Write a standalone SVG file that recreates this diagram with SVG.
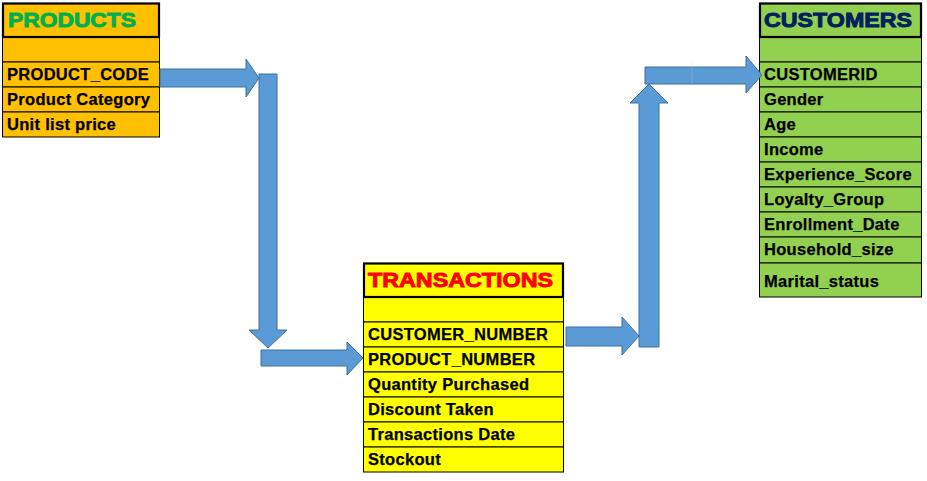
<svg xmlns="http://www.w3.org/2000/svg" width="927" height="481" viewBox="0 0 927 481">
<style>
.bg{fill:#FFFFFF}
.row{stroke:#000;stroke-width:1}
.title{stroke:#000;stroke-width:2.2}
.ttl{font-family:"Liberation Sans",Arial,sans-serif;font-weight:bold;font-size:20px;stroke-width:0.9}
.fld{font-family:"Liberation Sans",Arial,sans-serif;font-weight:bold;font-size:16.5px;letter-spacing:0.3px;fill:#000;stroke:#000;stroke-width:0.25}
.arr{fill:#5B9BD5;stroke:#41719C;stroke-width:1}
.prod{fill:#FFC000}
.tran{fill:#FFFF00}
.cust{fill:#92D050}
</style>
<rect class="bg" x="0" y="0" width="927" height="481"/>

<g id="products">
  <rect class="prod row" x="2.5" y="37" width="157" height="25"/>
  <rect class="prod row" x="2.5" y="62" width="157" height="25"/>
  <rect class="prod row" x="2.5" y="87" width="157" height="25"/>
  <rect class="prod row" x="2.5" y="112" width="157" height="25"/>
  <rect class="prod title" x="3" y="3.5" width="156" height="33.5"/>
  <text class="ttl" x="8" y="27" fill="#00B050" stroke="#00B050" textLength="128" lengthAdjust="spacingAndGlyphs">PRODUCTS</text>
  <text class="fld" x="7" y="80">PRODUCT_CODE</text>
  <text class="fld" x="7" y="105">Product Category</text>
  <text class="fld" x="7" y="130">Unit list price</text>
</g>

<g id="transactions">
  <rect class="tran row" x="363.5" y="297" width="200" height="25"/>
  <rect class="tran row" x="363.5" y="322" width="200" height="25"/>
  <rect class="tran row" x="363.5" y="347" width="200" height="25"/>
  <rect class="tran row" x="363.5" y="372" width="200" height="25"/>
  <rect class="tran row" x="363.5" y="397" width="200" height="25"/>
  <rect class="tran row" x="363.5" y="422" width="200" height="25"/>
  <rect class="tran row" x="363.5" y="447" width="200" height="25"/>
  <rect class="tran title" x="364" y="263.5" width="199" height="33.5"/>
  <text class="ttl" x="368" y="287" fill="#FF0000" stroke="#FF0000" textLength="185" lengthAdjust="spacingAndGlyphs">TRANSACTIONS</text>
  <text class="fld" x="368" y="340">CUSTOMER_NUMBER</text>
  <text class="fld" x="368" y="365">PRODUCT_NUMBER</text>
  <text class="fld" x="368" y="390">Quantity Purchased</text>
  <text class="fld" x="368" y="415">Discount Taken</text>
  <text class="fld" x="368" y="440">Transactions Date</text>
  <text class="fld" x="368" y="465">Stockout</text>
</g>

<g id="customers">
  <rect class="cust row" x="759.5" y="37" width="162" height="25"/>
  <rect class="cust row" x="759.5" y="62" width="162" height="25"/>
  <rect class="cust row" x="759.5" y="87" width="162" height="25"/>
  <rect class="cust row" x="759.5" y="112" width="162" height="25"/>
  <rect class="cust row" x="759.5" y="137" width="162" height="25"/>
  <rect class="cust row" x="759.5" y="162" width="162" height="25"/>
  <rect class="cust row" x="759.5" y="187" width="162" height="25"/>
  <rect class="cust row" x="759.5" y="212" width="162" height="25"/>
  <rect class="cust row" x="759.5" y="237" width="162" height="26"/>
  <rect class="cust row" x="759.5" y="263" width="162" height="34"/>
  <rect class="cust title" x="760" y="3.5" width="161" height="33.5"/>
  <text class="ttl" x="764" y="27" fill="#002060" stroke="#002060" textLength="148" lengthAdjust="spacingAndGlyphs">CUSTOMERS</text>
  <text class="fld" x="764" y="80">CUSTOMERID</text>
  <text class="fld" x="764" y="105">Gender</text>
  <text class="fld" x="764" y="130">Age</text>
  <text class="fld" x="764" y="155">Income</text>
  <text class="fld" x="764" y="180">Experience_Score</text>
  <text class="fld" x="764" y="205">Loyalty_Group</text>
  <text class="fld" x="764" y="230">Enrollment_Date</text>
  <text class="fld" x="764" y="255">Household_size</text>
  <text class="fld" x="764" y="287">Marital_status</text>
</g>

<g id="connectors">
  <polygon class="arr" points="160,69 246,69 246,59 259,78 246,97 246,87 160,87"/>
  <polygon class="arr" points="259,74 277,74 277,330 287,330 268,348 249,330 259,330"/>
  <polygon class="arr" points="261,350 347,350 347,342 363,358 347,375 347,366 261,366"/>
  <polygon class="arr" points="566,327 622,327 622,317 639,336 622,355 622,346 566,346"/>
  <polygon class="arr" points="639,347 659,347 659,103 668,103 649,84 630,103 639,103"/>
  <polygon class="arr" points="645,67 746,67 746,56 762,75 746,93 746,84 645,84"/>
  <line x1="692" y1="62" x2="692" y2="87" stroke="#D0D0D0" stroke-width="0.6" opacity="0.5"/>
</g>
</svg>
